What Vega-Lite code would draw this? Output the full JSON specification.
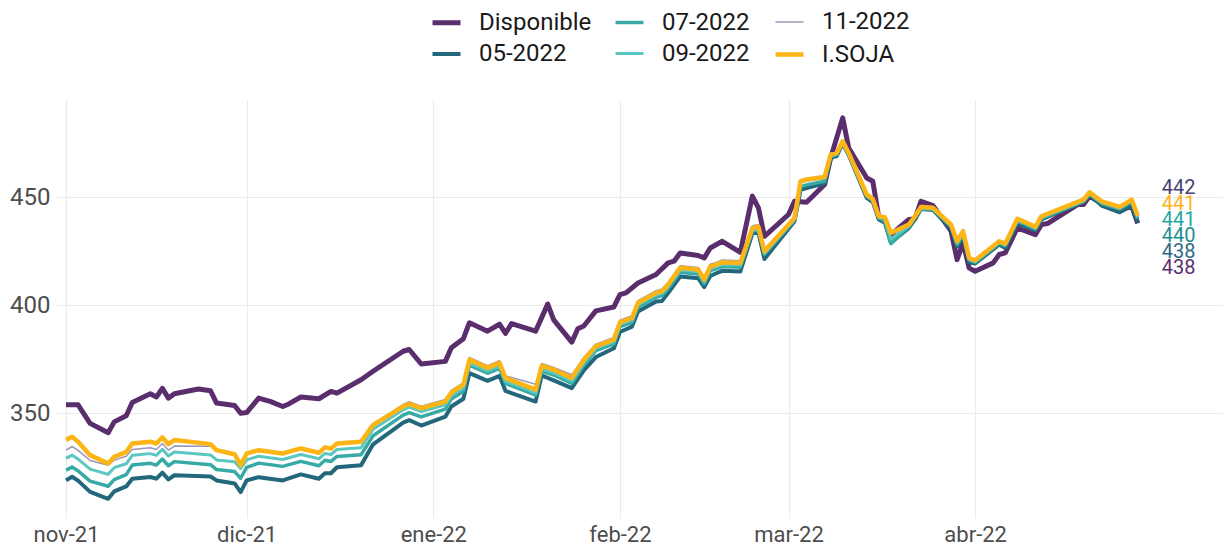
{
"$schema": "https://vega.github.io/schema/vega-lite/v6.json",
"width": 1165, "height": 418,
"autosize": {"type": "none"},
"padding": {"left": 57, "top": 100, "right": 7, "bottom": 30},
"background": "white",
"config": {"view": {"stroke": null}, "font": "Roboto"},
"datasets": {
"prices": [
{"date":"2021-11-01","series":"Disponible","value":353.9},{"date":"2021-11-03","series":"Disponible","value":353.9},{"date":"2021-11-05","series":"Disponible","value":345.3},{"date":"2021-11-08","series":"Disponible","value":341.0},{"date":"2021-11-09","series":"Disponible","value":346.0},{"date":"2021-11-11","series":"Disponible","value":348.8},{"date":"2021-11-12","series":"Disponible","value":355.0},{"date":"2021-11-15","series":"Disponible","value":359.0},{"date":"2021-11-16","series":"Disponible","value":357.5},{"date":"2021-11-17","series":"Disponible","value":361.5},{"date":"2021-11-18","series":"Disponible","value":357.0},{"date":"2021-11-19","series":"Disponible","value":359.0},{"date":"2021-11-23","series":"Disponible","value":361.2},{"date":"2021-11-25","series":"Disponible","value":360.4},{"date":"2021-11-26","series":"Disponible","value":354.7},{"date":"2021-11-29","series":"Disponible","value":353.6},{"date":"2021-11-30","series":"Disponible","value":350.0},{"date":"2021-12-01","series":"Disponible","value":350.3},{"date":"2021-12-03","series":"Disponible","value":357.0},{"date":"2021-12-05","series":"Disponible","value":355.4},{"date":"2021-12-07","series":"Disponible","value":353.1},{"date":"2021-12-08","series":"Disponible","value":354.3},{"date":"2021-12-10","series":"Disponible","value":357.5},{"date":"2021-12-13","series":"Disponible","value":356.7},{"date":"2021-12-15","series":"Disponible","value":360.1},{"date":"2021-12-16","series":"Disponible","value":359.3},{"date":"2021-12-20","series":"Disponible","value":365.5},{"date":"2021-12-22","series":"Disponible","value":369.4},{"date":"2021-12-27","series":"Disponible","value":378.7},{"date":"2021-12-28","series":"Disponible","value":379.5},{"date":"2021-12-30","series":"Disponible","value":372.8},{"date":"2022-01-03","series":"Disponible","value":374.0},{"date":"2022-01-04","series":"Disponible","value":380.3},{"date":"2022-01-06","series":"Disponible","value":384.5},{"date":"2022-01-07","series":"Disponible","value":391.9},{"date":"2022-01-10","series":"Disponible","value":388.0},{"date":"2022-01-12","series":"Disponible","value":391.2},{"date":"2022-01-13","series":"Disponible","value":387.0},{"date":"2022-01-14","series":"Disponible","value":391.5},{"date":"2022-01-18","series":"Disponible","value":388.0},{"date":"2022-01-20","series":"Disponible","value":400.5},{"date":"2022-01-21","series":"Disponible","value":393.2},{"date":"2022-01-24","series":"Disponible","value":382.9},{"date":"2022-01-25","series":"Disponible","value":389.1},{"date":"2022-01-26","series":"Disponible","value":390.4},{"date":"2022-01-28","series":"Disponible","value":397.4},{"date":"2022-01-31","series":"Disponible","value":399.2},{"date":"2022-02-01","series":"Disponible","value":404.9},{"date":"2022-02-02","series":"Disponible","value":405.7},{"date":"2022-02-04","series":"Disponible","value":410.3},{"date":"2022-02-07","series":"Disponible","value":414.2},{"date":"2022-02-09","series":"Disponible","value":419.6},{"date":"2022-02-10","series":"Disponible","value":420.4},{"date":"2022-02-11","series":"Disponible","value":424.2},{"date":"2022-02-14","series":"Disponible","value":423.0},{"date":"2022-02-15","series":"Disponible","value":421.9},{"date":"2022-02-16","series":"Disponible","value":426.5},{"date":"2022-02-18","series":"Disponible","value":429.6},{"date":"2022-02-21","series":"Disponible","value":424.5},{"date":"2022-02-23","series":"Disponible","value":450.5},{"date":"2022-02-24","series":"Disponible","value":445.1},{"date":"2022-02-25","series":"Disponible","value":431.9},{"date":"2022-03-01","series":"Disponible","value":442.0},{"date":"2022-03-02","series":"Disponible","value":448.1},{"date":"2022-03-04","series":"Disponible","value":447.7},{"date":"2022-03-07","series":"Disponible","value":455.9},{"date":"2022-03-08","series":"Disponible","value":468.2},{"date":"2022-03-10","series":"Disponible","value":486.7},{"date":"2022-03-11","series":"Disponible","value":472.8},{"date":"2022-03-14","series":"Disponible","value":458.9},{"date":"2022-03-15","series":"Disponible","value":457.4},{"date":"2022-03-16","series":"Disponible","value":440.4},{"date":"2022-03-17","series":"Disponible","value":439.7},{"date":"2022-03-18","series":"Disponible","value":432.7},{"date":"2022-03-21","series":"Disponible","value":439.7},{"date":"2022-03-22","series":"Disponible","value":440.0},{"date":"2022-03-23","series":"Disponible","value":448.1},{"date":"2022-03-25","series":"Disponible","value":446.1},{"date":"2022-03-28","series":"Disponible","value":434.3},{"date":"2022-03-29","series":"Disponible","value":421.1},{"date":"2022-03-30","series":"Disponible","value":428.9},{"date":"2022-03-31","series":"Disponible","value":417.3},{"date":"2022-04-01","series":"Disponible","value":415.7},{"date":"2022-04-04","series":"Disponible","value":419.6},{"date":"2022-04-05","series":"Disponible","value":423.5},{"date":"2022-04-06","series":"Disponible","value":424.2},{"date":"2022-04-08","series":"Disponible","value":435.8},{"date":"2022-04-11","series":"Disponible","value":432.7},{"date":"2022-04-12","series":"Disponible","value":437.3},{"date":"2022-04-13","series":"Disponible","value":437.8},{"date":"2022-04-18","series":"Disponible","value":446.6},{"date":"2022-04-19","series":"Disponible","value":446.6},{"date":"2022-04-20","series":"Disponible","value":450.5},{"date":"2022-04-22","series":"Disponible","value":447.1},{"date":"2022-04-25","series":"Disponible","value":443.5},{"date":"2022-04-27","series":"Disponible","value":446.1},{"date":"2022-04-28","series":"Disponible","value":437.9},
{"date":"2021-11-01","series":"05-2022","value":318.9},{"date":"2021-11-02","series":"05-2022","value":320.6},{"date":"2021-11-03","series":"05-2022","value":318.8},{"date":"2021-11-05","series":"05-2022","value":313.6},{"date":"2021-11-08","series":"05-2022","value":310.4},{"date":"2021-11-09","series":"05-2022","value":313.8},{"date":"2021-11-11","series":"05-2022","value":316.1},{"date":"2021-11-12","series":"05-2022","value":319.7},{"date":"2021-11-15","series":"05-2022","value":320.5},{"date":"2021-11-16","series":"05-2022","value":319.7},{"date":"2021-11-17","series":"05-2022","value":322.5},{"date":"2021-11-18","series":"05-2022","value":319.4},{"date":"2021-11-19","series":"05-2022","value":321.3},{"date":"2021-11-25","series":"05-2022","value":320.7},{"date":"2021-11-26","series":"05-2022","value":318.9},{"date":"2021-11-29","series":"05-2022","value":317.5},{"date":"2021-11-30","series":"05-2022","value":313.5},{"date":"2021-12-01","series":"05-2022","value":318.9},{"date":"2021-12-03","series":"05-2022","value":320.4},{"date":"2021-12-07","series":"05-2022","value":318.9},{"date":"2021-12-10","series":"05-2022","value":321.7},{"date":"2021-12-13","series":"05-2022","value":319.7},{"date":"2021-12-14","series":"05-2022","value":322.2},{"date":"2021-12-15","series":"05-2022","value":322.2},{"date":"2021-12-16","series":"05-2022","value":325.0},{"date":"2021-12-20","series":"05-2022","value":325.9},{"date":"2021-12-22","series":"05-2022","value":335.6},{"date":"2021-12-27","series":"05-2022","value":345.7},{"date":"2021-12-28","series":"05-2022","value":346.8},{"date":"2021-12-30","series":"05-2022","value":344.3},{"date":"2022-01-03","series":"05-2022","value":348.4},{"date":"2022-01-04","series":"05-2022","value":353.1},{"date":"2022-01-06","series":"05-2022","value":356.7},{"date":"2022-01-07","series":"05-2022","value":368.6},{"date":"2022-01-10","series":"05-2022","value":365.0},{"date":"2022-01-12","series":"05-2022","value":367.3},{"date":"2022-01-13","series":"05-2022","value":360.3},{"date":"2022-01-18","series":"05-2022","value":355.4},{"date":"2022-01-19","series":"05-2022","value":367.5},{"date":"2022-01-21","series":"05-2022","value":365.2},{"date":"2022-01-24","series":"05-2022","value":361.6},{"date":"2022-01-26","series":"05-2022","value":369.8},{"date":"2022-01-28","series":"05-2022","value":376.0},{"date":"2022-01-31","series":"05-2022","value":380.1},{"date":"2022-02-01","series":"05-2022","value":387.6},{"date":"2022-02-03","series":"05-2022","value":390.1},{"date":"2022-02-04","series":"05-2022","value":397.1},{"date":"2022-02-07","series":"05-2022","value":401.7},{"date":"2022-02-08","series":"05-2022","value":402.0},{"date":"2022-02-09","series":"05-2022","value":405.6},{"date":"2022-02-11","series":"05-2022","value":413.3},{"date":"2022-02-14","series":"05-2022","value":412.5},{"date":"2022-02-15","series":"05-2022","value":408.4},{"date":"2022-02-16","series":"05-2022","value":413.5},{"date":"2022-02-17","series":"05-2022","value":414.8},{"date":"2022-02-18","series":"05-2022","value":415.9},{"date":"2022-02-21","series":"05-2022","value":415.6},{"date":"2022-02-23","series":"05-2022","value":433.3},{"date":"2022-02-24","series":"05-2022","value":433.8},{"date":"2022-02-25","series":"05-2022","value":421.4},{"date":"2022-03-02","series":"05-2022","value":438.9},{"date":"2022-03-03","series":"05-2022","value":453.4},{"date":"2022-03-04","series":"05-2022","value":454.2},{"date":"2022-03-07","series":"05-2022","value":456.4},{"date":"2022-03-08","series":"05-2022","value":468.2},{"date":"2022-03-09","series":"05-2022","value":469.0},{"date":"2022-03-10","series":"05-2022","value":474.9},{"date":"2022-03-11","series":"05-2022","value":469.5},{"date":"2022-03-14","series":"05-2022","value":449.7},{"date":"2022-03-15","series":"05-2022","value":447.7},{"date":"2022-03-16","series":"05-2022","value":439.7},{"date":"2022-03-17","series":"05-2022","value":438.2},{"date":"2022-03-18","series":"05-2022","value":429.0},{"date":"2022-03-21","series":"05-2022","value":435.8},{"date":"2022-03-22","series":"05-2022","value":439.7},{"date":"2022-03-23","series":"05-2022","value":444.5},{"date":"2022-03-25","series":"05-2022","value":444.1},{"date":"2022-03-28","series":"05-2022","value":435.3},{"date":"2022-03-29","series":"05-2022","value":427.1},{"date":"2022-03-30","series":"05-2022","value":431.8},{"date":"2022-03-31","series":"05-2022","value":419.9},{"date":"2022-04-01","series":"05-2022","value":419.3},{"date":"2022-04-05","series":"05-2022","value":428.1},{"date":"2022-04-06","series":"05-2022","value":426.5},{"date":"2022-04-08","series":"05-2022","value":438.0},{"date":"2022-04-11","series":"05-2022","value":434.8},{"date":"2022-04-12","series":"05-2022","value":439.7},{"date":"2022-04-19","series":"05-2022","value":447.9},{"date":"2022-04-20","series":"05-2022","value":451.3},{"date":"2022-04-22","series":"05-2022","value":446.1},{"date":"2022-04-25","series":"05-2022","value":443.0},{"date":"2022-04-27","series":"05-2022","value":446.4},{"date":"2022-04-28","series":"05-2022","value":438.2},
{"date":"2021-11-01","series":"07-2022","value":323.6},{"date":"2021-11-02","series":"07-2022","value":325.1},{"date":"2021-11-03","series":"07-2022","value":323.3},{"date":"2021-11-05","series":"07-2022","value":318.6},{"date":"2021-11-08","series":"07-2022","value":316.2},{"date":"2021-11-09","series":"07-2022","value":319.3},{"date":"2021-11-11","series":"07-2022","value":321.6},{"date":"2021-11-12","series":"07-2022","value":326.0},{"date":"2021-11-15","series":"07-2022","value":326.8},{"date":"2021-11-16","series":"07-2022","value":326.0},{"date":"2021-11-17","series":"07-2022","value":328.8},{"date":"2021-11-18","series":"07-2022","value":325.7},{"date":"2021-11-19","series":"07-2022","value":327.6},{"date":"2021-11-25","series":"07-2022","value":326.2},{"date":"2021-11-26","series":"07-2022","value":323.9},{"date":"2021-11-29","series":"07-2022","value":323.0},{"date":"2021-11-30","series":"07-2022","value":319.9},{"date":"2021-12-01","series":"07-2022","value":324.9},{"date":"2021-12-03","series":"07-2022","value":326.9},{"date":"2021-12-07","series":"07-2022","value":325.4},{"date":"2021-12-10","series":"07-2022","value":327.7},{"date":"2021-12-13","series":"07-2022","value":325.7},{"date":"2021-12-14","series":"07-2022","value":328.2},{"date":"2021-12-15","series":"07-2022","value":327.7},{"date":"2021-12-16","series":"07-2022","value":330.0},{"date":"2021-12-20","series":"07-2022","value":330.8},{"date":"2021-12-22","series":"07-2022","value":339.6},{"date":"2021-12-27","series":"07-2022","value":349.1},{"date":"2021-12-28","series":"07-2022","value":350.3},{"date":"2021-12-30","series":"07-2022","value":348.3},{"date":"2022-01-03","series":"07-2022","value":351.9},{"date":"2022-01-04","series":"07-2022","value":356.6},{"date":"2022-01-06","series":"07-2022","value":360.2},{"date":"2022-01-07","series":"07-2022","value":372.3},{"date":"2022-01-10","series":"07-2022","value":368.5},{"date":"2022-01-12","series":"07-2022","value":370.8},{"date":"2022-01-13","series":"07-2022","value":363.8},{"date":"2022-01-18","series":"07-2022","value":358.4},{"date":"2022-01-19","series":"07-2022","value":369.5},{"date":"2022-01-21","series":"07-2022","value":367.7},{"date":"2022-01-24","series":"07-2022","value":363.8},{"date":"2022-01-26","series":"07-2022","value":372.3},{"date":"2022-01-28","series":"07-2022","value":379.0},{"date":"2022-01-31","series":"07-2022","value":382.1},{"date":"2022-02-01","series":"07-2022","value":390.1},{"date":"2022-02-03","series":"07-2022","value":392.1},{"date":"2022-02-04","series":"07-2022","value":399.1},{"date":"2022-02-07","series":"07-2022","value":403.7},{"date":"2022-02-08","series":"07-2022","value":404.5},{"date":"2022-02-09","series":"07-2022","value":407.6},{"date":"2022-02-11","series":"07-2022","value":415.3},{"date":"2022-02-14","series":"07-2022","value":414.5},{"date":"2022-02-15","series":"07-2022","value":409.9},{"date":"2022-02-16","series":"07-2022","value":416.0},{"date":"2022-02-17","series":"07-2022","value":416.8},{"date":"2022-02-18","series":"07-2022","value":417.9},{"date":"2022-02-21","series":"07-2022","value":417.6},{"date":"2022-02-23","series":"07-2022","value":434.3},{"date":"2022-02-24","series":"07-2022","value":434.8},{"date":"2022-02-25","series":"07-2022","value":423.5},{"date":"2022-03-02","series":"07-2022","value":439.4},{"date":"2022-03-03","series":"07-2022","value":454.9},{"date":"2022-03-04","series":"07-2022","value":455.7},{"date":"2022-03-07","series":"07-2022","value":457.4},{"date":"2022-03-08","series":"07-2022","value":468.7},{"date":"2022-03-09","series":"07-2022","value":469.7},{"date":"2022-03-10","series":"07-2022","value":475.1},{"date":"2022-03-11","series":"07-2022","value":469.7},{"date":"2022-03-14","series":"07-2022","value":450.4},{"date":"2022-03-15","series":"07-2022","value":448.4},{"date":"2022-03-16","series":"07-2022","value":440.4},{"date":"2022-03-17","series":"07-2022","value":438.7},{"date":"2022-03-18","series":"07-2022","value":428.5},{"date":"2022-03-21","series":"07-2022","value":436.3},{"date":"2022-03-22","series":"07-2022","value":440.4},{"date":"2022-03-23","series":"07-2022","value":444.7},{"date":"2022-03-25","series":"07-2022","value":444.3},{"date":"2022-03-28","series":"07-2022","value":436.5},{"date":"2022-03-29","series":"07-2022","value":428.1},{"date":"2022-03-30","series":"07-2022","value":432.8},{"date":"2022-03-31","series":"07-2022","value":420.9},{"date":"2022-04-01","series":"07-2022","value":419.8},{"date":"2022-04-05","series":"07-2022","value":428.6},{"date":"2022-04-06","series":"07-2022","value":427.5},{"date":"2022-04-08","series":"07-2022","value":439.0},{"date":"2022-04-11","series":"07-2022","value":435.3},{"date":"2022-04-12","series":"07-2022","value":440.2},{"date":"2022-04-19","series":"07-2022","value":447.9},{"date":"2022-04-20","series":"07-2022","value":451.3},{"date":"2022-04-22","series":"07-2022","value":447.1},{"date":"2022-04-25","series":"07-2022","value":444.5},{"date":"2022-04-27","series":"07-2022","value":447.9},{"date":"2022-04-28","series":"07-2022","value":440.2},
{"date":"2021-11-01","series":"09-2022","value":329.1},{"date":"2021-11-02","series":"09-2022","value":330.6},{"date":"2021-11-03","series":"09-2022","value":328.8},{"date":"2021-11-05","series":"09-2022","value":324.1},{"date":"2021-11-08","series":"09-2022","value":321.7},{"date":"2021-11-09","series":"09-2022","value":324.8},{"date":"2021-11-11","series":"09-2022","value":326.6},{"date":"2021-11-12","series":"09-2022","value":330.5},{"date":"2021-11-15","series":"09-2022","value":331.3},{"date":"2021-11-16","series":"09-2022","value":330.5},{"date":"2021-11-17","series":"09-2022","value":333.3},{"date":"2021-11-18","series":"09-2022","value":330.2},{"date":"2021-11-19","series":"09-2022","value":332.1},{"date":"2021-11-25","series":"09-2022","value":330.7},{"date":"2021-11-26","series":"09-2022","value":328.4},{"date":"2021-11-29","series":"09-2022","value":327.5},{"date":"2021-11-30","series":"09-2022","value":324.4},{"date":"2021-12-01","series":"09-2022","value":328.4},{"date":"2021-12-03","series":"09-2022","value":330.1},{"date":"2021-12-07","series":"09-2022","value":328.6},{"date":"2021-12-10","series":"09-2022","value":330.9},{"date":"2021-12-13","series":"09-2022","value":328.9},{"date":"2021-12-14","series":"09-2022","value":331.4},{"date":"2021-12-15","series":"09-2022","value":330.9},{"date":"2021-12-16","series":"09-2022","value":333.2},{"date":"2021-12-20","series":"09-2022","value":334.0},{"date":"2021-12-22","series":"09-2022","value":342.6},{"date":"2021-12-27","series":"09-2022","value":351.6},{"date":"2021-12-28","series":"09-2022","value":352.8},{"date":"2021-12-30","series":"09-2022","value":350.8},{"date":"2022-01-03","series":"09-2022","value":353.9},{"date":"2022-01-04","series":"09-2022","value":358.1},{"date":"2022-01-06","series":"09-2022","value":361.7},{"date":"2022-01-07","series":"09-2022","value":373.3},{"date":"2022-01-10","series":"09-2022","value":369.5},{"date":"2022-01-12","series":"09-2022","value":371.8},{"date":"2022-01-13","series":"09-2022","value":364.8},{"date":"2022-01-18","series":"09-2022","value":359.4},{"date":"2022-01-19","series":"09-2022","value":370.5},{"date":"2022-01-21","series":"09-2022","value":368.7},{"date":"2022-01-24","series":"09-2022","value":364.8},{"date":"2022-01-26","series":"09-2022","value":373.3},{"date":"2022-01-28","series":"09-2022","value":380.0},{"date":"2022-01-31","series":"09-2022","value":383.1},{"date":"2022-02-01","series":"09-2022","value":391.1},{"date":"2022-02-03","series":"09-2022","value":393.1},{"date":"2022-02-04","series":"09-2022","value":400.1},{"date":"2022-02-07","series":"09-2022","value":404.7},{"date":"2022-02-08","series":"09-2022","value":405.5},{"date":"2022-02-09","series":"09-2022","value":408.6},{"date":"2022-02-11","series":"09-2022","value":416.3},{"date":"2022-02-14","series":"09-2022","value":415.5},{"date":"2022-02-15","series":"09-2022","value":410.9},{"date":"2022-02-16","series":"09-2022","value":417.0},{"date":"2022-02-17","series":"09-2022","value":417.8},{"date":"2022-02-18","series":"09-2022","value":418.9},{"date":"2022-02-21","series":"09-2022","value":418.6},{"date":"2022-02-23","series":"09-2022","value":434.8},{"date":"2022-02-24","series":"09-2022","value":435.3},{"date":"2022-02-25","series":"09-2022","value":424.0},{"date":"2022-03-02","series":"09-2022","value":439.9},{"date":"2022-03-03","series":"09-2022","value":456.9},{"date":"2022-03-04","series":"09-2022","value":457.7},{"date":"2022-03-07","series":"09-2022","value":458.9},{"date":"2022-03-08","series":"09-2022","value":469.2},{"date":"2022-03-09","series":"09-2022","value":470.0},{"date":"2022-03-10","series":"09-2022","value":475.4},{"date":"2022-03-11","series":"09-2022","value":470.0},{"date":"2022-03-14","series":"09-2022","value":450.7},{"date":"2022-03-15","series":"09-2022","value":448.7},{"date":"2022-03-16","series":"09-2022","value":440.7},{"date":"2022-03-17","series":"09-2022","value":440.2},{"date":"2022-03-18","series":"09-2022","value":430.5},{"date":"2022-03-21","series":"09-2022","value":436.8},{"date":"2022-03-22","series":"09-2022","value":440.7},{"date":"2022-03-23","series":"09-2022","value":445.0},{"date":"2022-03-25","series":"09-2022","value":444.6},{"date":"2022-03-28","series":"09-2022","value":436.8},{"date":"2022-03-29","series":"09-2022","value":429.1},{"date":"2022-03-30","series":"09-2022","value":433.8},{"date":"2022-03-31","series":"09-2022","value":421.4},{"date":"2022-04-01","series":"09-2022","value":420.3},{"date":"2022-04-05","series":"09-2022","value":429.1},{"date":"2022-04-06","series":"09-2022","value":428.0},{"date":"2022-04-08","series":"09-2022","value":439.5},{"date":"2022-04-11","series":"09-2022","value":435.8},{"date":"2022-04-12","series":"09-2022","value":440.7},{"date":"2022-04-19","series":"09-2022","value":448.4},{"date":"2022-04-20","series":"09-2022","value":451.8},{"date":"2022-04-22","series":"09-2022","value":447.6},{"date":"2022-04-25","series":"09-2022","value":445.0},{"date":"2022-04-27","series":"09-2022","value":448.4},{"date":"2022-04-28","series":"09-2022","value":440.8},
{"date":"2021-11-01","series":"11-2022","value":332.9},{"date":"2021-11-02","series":"11-2022","value":334.6},{"date":"2021-11-03","series":"11-2022","value":332.8},{"date":"2021-11-05","series":"11-2022","value":328.1},{"date":"2021-11-08","series":"11-2022","value":325.9},{"date":"2021-11-09","series":"11-2022","value":328.3},{"date":"2021-11-11","series":"11-2022","value":330.1},{"date":"2021-11-12","series":"11-2022","value":333.2},{"date":"2021-11-15","series":"11-2022","value":334.0},{"date":"2021-11-16","series":"11-2022","value":333.2},{"date":"2021-11-17","series":"11-2022","value":336.0},{"date":"2021-11-18","series":"11-2022","value":332.9},{"date":"2021-11-19","series":"11-2022","value":334.8},{"date":"2021-11-25","series":"11-2022","value":334.7},{"date":"2021-11-26","series":"11-2022","value":332.4},{"date":"2021-11-29","series":"11-2022","value":330.5},{"date":"2021-11-30","series":"11-2022","value":325.4},{"date":"2021-12-01","series":"11-2022","value":330.9},{"date":"2021-12-03","series":"11-2022","value":332.4},{"date":"2021-12-07","series":"11-2022","value":330.9},{"date":"2021-12-10","series":"11-2022","value":333.2},{"date":"2021-12-13","series":"11-2022","value":331.2},{"date":"2021-12-14","series":"11-2022","value":333.7},{"date":"2021-12-15","series":"11-2022","value":333.2},{"date":"2021-12-16","series":"11-2022","value":335.5},{"date":"2021-12-20","series":"11-2022","value":336.3},{"date":"2021-12-22","series":"11-2022","value":344.6},{"date":"2021-12-27","series":"11-2022","value":354.1},{"date":"2021-12-28","series":"11-2022","value":355.3},{"date":"2021-12-30","series":"11-2022","value":353.3},{"date":"2022-01-03","series":"11-2022","value":356.4},{"date":"2022-01-04","series":"11-2022","value":360.6},{"date":"2022-01-06","series":"11-2022","value":364.2},{"date":"2022-01-07","series":"11-2022","value":375.8},{"date":"2022-01-10","series":"11-2022","value":372.0},{"date":"2022-01-12","series":"11-2022","value":374.3},{"date":"2022-01-13","series":"11-2022","value":367.3},{"date":"2022-01-18","series":"11-2022","value":363.4},{"date":"2022-01-19","series":"11-2022","value":373.0},{"date":"2022-01-21","series":"11-2022","value":371.2},{"date":"2022-01-24","series":"11-2022","value":367.8},{"date":"2022-01-26","series":"11-2022","value":375.8},{"date":"2022-01-28","series":"11-2022","value":382.0},{"date":"2022-01-31","series":"11-2022","value":385.1},{"date":"2022-02-01","series":"11-2022","value":393.1},{"date":"2022-02-03","series":"11-2022","value":395.1},{"date":"2022-02-04","series":"11-2022","value":402.1},{"date":"2022-02-07","series":"11-2022","value":406.7},{"date":"2022-02-08","series":"11-2022","value":407.5},{"date":"2022-02-09","series":"11-2022","value":410.6},{"date":"2022-02-11","series":"11-2022","value":418.3},{"date":"2022-02-14","series":"11-2022","value":417.5},{"date":"2022-02-15","series":"11-2022","value":412.9},{"date":"2022-02-16","series":"11-2022","value":419.0},{"date":"2022-02-17","series":"11-2022","value":419.8},{"date":"2022-02-18","series":"11-2022","value":420.9},{"date":"2022-02-21","series":"11-2022","value":420.6},{"date":"2022-02-23","series":"11-2022","value":436.8},{"date":"2022-02-24","series":"11-2022","value":437.3},{"date":"2022-02-25","series":"11-2022","value":426.0},{"date":"2022-03-02","series":"11-2022","value":440.9},{"date":"2022-03-03","series":"11-2022","value":457.9},{"date":"2022-03-04","series":"11-2022","value":458.7},{"date":"2022-03-07","series":"11-2022","value":459.9},{"date":"2022-03-08","series":"11-2022","value":470.2},{"date":"2022-03-09","series":"11-2022","value":471.0},{"date":"2022-03-10","series":"11-2022","value":476.4},{"date":"2022-03-11","series":"11-2022","value":471.0},{"date":"2022-03-14","series":"11-2022","value":451.7},{"date":"2022-03-15","series":"11-2022","value":449.7},{"date":"2022-03-16","series":"11-2022","value":441.7},{"date":"2022-03-17","series":"11-2022","value":441.2},{"date":"2022-03-18","series":"11-2022","value":434.0},{"date":"2022-03-21","series":"11-2022","value":437.8},{"date":"2022-03-22","series":"11-2022","value":441.7},{"date":"2022-03-23","series":"11-2022","value":446.0},{"date":"2022-03-25","series":"11-2022","value":445.6},{"date":"2022-03-28","series":"11-2022","value":437.8},{"date":"2022-03-29","series":"11-2022","value":430.1},{"date":"2022-03-30","series":"11-2022","value":434.8},{"date":"2022-03-31","series":"11-2022","value":422.4},{"date":"2022-04-01","series":"11-2022","value":421.3},{"date":"2022-04-05","series":"11-2022","value":430.1},{"date":"2022-04-06","series":"11-2022","value":429.0},{"date":"2022-04-08","series":"11-2022","value":440.5},{"date":"2022-04-11","series":"11-2022","value":436.8},{"date":"2022-04-12","series":"11-2022","value":441.7},{"date":"2022-04-19","series":"11-2022","value":449.4},{"date":"2022-04-20","series":"11-2022","value":452.8},{"date":"2022-04-22","series":"11-2022","value":448.6},{"date":"2022-04-25","series":"11-2022","value":446.0},{"date":"2022-04-27","series":"11-2022","value":449.4},{"date":"2022-04-28","series":"11-2022","value":442.0},
{"date":"2021-11-01","series":"I.SOJA","value":337.6},{"date":"2021-11-02","series":"I.SOJA","value":339.1},{"date":"2021-11-03","series":"I.SOJA","value":336.8},{"date":"2021-11-05","series":"I.SOJA","value":330.6},{"date":"2021-11-08","series":"I.SOJA","value":326.7},{"date":"2021-11-09","series":"I.SOJA","value":329.8},{"date":"2021-11-11","series":"I.SOJA","value":332.1},{"date":"2021-11-12","series":"I.SOJA","value":336.0},{"date":"2021-11-15","series":"I.SOJA","value":336.8},{"date":"2021-11-16","series":"I.SOJA","value":336.0},{"date":"2021-11-17","series":"I.SOJA","value":338.8},{"date":"2021-11-18","series":"I.SOJA","value":335.7},{"date":"2021-11-19","series":"I.SOJA","value":337.6},{"date":"2021-11-25","series":"I.SOJA","value":335.7},{"date":"2021-11-26","series":"I.SOJA","value":332.9},{"date":"2021-11-29","series":"I.SOJA","value":331.0},{"date":"2021-11-30","series":"I.SOJA","value":325.9},{"date":"2021-12-01","series":"I.SOJA","value":331.4},{"date":"2021-12-03","series":"I.SOJA","value":332.9},{"date":"2021-12-07","series":"I.SOJA","value":331.4},{"date":"2021-12-10","series":"I.SOJA","value":333.7},{"date":"2021-12-13","series":"I.SOJA","value":331.7},{"date":"2021-12-14","series":"I.SOJA","value":334.2},{"date":"2021-12-15","series":"I.SOJA","value":333.7},{"date":"2021-12-16","series":"I.SOJA","value":336.0},{"date":"2021-12-20","series":"I.SOJA","value":336.8},{"date":"2021-12-22","series":"I.SOJA","value":344.6},{"date":"2021-12-27","series":"I.SOJA","value":353.1},{"date":"2021-12-28","series":"I.SOJA","value":354.3},{"date":"2021-12-30","series":"I.SOJA","value":352.3},{"date":"2022-01-03","series":"I.SOJA","value":355.4},{"date":"2022-01-04","series":"I.SOJA","value":359.6},{"date":"2022-01-06","series":"I.SOJA","value":363.2},{"date":"2022-01-07","series":"I.SOJA","value":374.8},{"date":"2022-01-10","series":"I.SOJA","value":371.0},{"date":"2022-01-12","series":"I.SOJA","value":373.3},{"date":"2022-01-13","series":"I.SOJA","value":366.3},{"date":"2022-01-18","series":"I.SOJA","value":360.9},{"date":"2022-01-19","series":"I.SOJA","value":372.0},{"date":"2022-01-21","series":"I.SOJA","value":370.2},{"date":"2022-01-24","series":"I.SOJA","value":366.3},{"date":"2022-01-26","series":"I.SOJA","value":374.8},{"date":"2022-01-28","series":"I.SOJA","value":381.0},{"date":"2022-01-31","series":"I.SOJA","value":384.1},{"date":"2022-02-01","series":"I.SOJA","value":392.1},{"date":"2022-02-03","series":"I.SOJA","value":394.1},{"date":"2022-02-04","series":"I.SOJA","value":401.1},{"date":"2022-02-07","series":"I.SOJA","value":405.7},{"date":"2022-02-08","series":"I.SOJA","value":406.5},{"date":"2022-02-09","series":"I.SOJA","value":409.6},{"date":"2022-02-11","series":"I.SOJA","value":417.3},{"date":"2022-02-14","series":"I.SOJA","value":416.5},{"date":"2022-02-15","series":"I.SOJA","value":411.9},{"date":"2022-02-16","series":"I.SOJA","value":418.0},{"date":"2022-02-17","series":"I.SOJA","value":418.8},{"date":"2022-02-18","series":"I.SOJA","value":419.9},{"date":"2022-02-21","series":"I.SOJA","value":419.6},{"date":"2022-02-23","series":"I.SOJA","value":435.8},{"date":"2022-02-24","series":"I.SOJA","value":436.3},{"date":"2022-02-25","series":"I.SOJA","value":425.0},{"date":"2022-03-02","series":"I.SOJA","value":440.4},{"date":"2022-03-03","series":"I.SOJA","value":457.4},{"date":"2022-03-04","series":"I.SOJA","value":458.2},{"date":"2022-03-07","series":"I.SOJA","value":459.4},{"date":"2022-03-08","series":"I.SOJA","value":469.7},{"date":"2022-03-09","series":"I.SOJA","value":470.5},{"date":"2022-03-10","series":"I.SOJA","value":475.9},{"date":"2022-03-11","series":"I.SOJA","value":470.5},{"date":"2022-03-14","series":"I.SOJA","value":451.2},{"date":"2022-03-15","series":"I.SOJA","value":449.2},{"date":"2022-03-16","series":"I.SOJA","value":441.2},{"date":"2022-03-17","series":"I.SOJA","value":440.7},{"date":"2022-03-18","series":"I.SOJA","value":433.5},{"date":"2022-03-21","series":"I.SOJA","value":437.3},{"date":"2022-03-22","series":"I.SOJA","value":441.2},{"date":"2022-03-23","series":"I.SOJA","value":445.5},{"date":"2022-03-25","series":"I.SOJA","value":445.1},{"date":"2022-03-28","series":"I.SOJA","value":437.3},{"date":"2022-03-29","series":"I.SOJA","value":429.6},{"date":"2022-03-30","series":"I.SOJA","value":434.3},{"date":"2022-03-31","series":"I.SOJA","value":421.9},{"date":"2022-04-01","series":"I.SOJA","value":420.8},{"date":"2022-04-05","series":"I.SOJA","value":429.6},{"date":"2022-04-06","series":"I.SOJA","value":428.5},{"date":"2022-04-08","series":"I.SOJA","value":440.0},{"date":"2022-04-11","series":"I.SOJA","value":436.3},{"date":"2022-04-12","series":"I.SOJA","value":441.2},{"date":"2022-04-19","series":"I.SOJA","value":448.9},{"date":"2022-04-20","series":"I.SOJA","value":452.3},{"date":"2022-04-22","series":"I.SOJA","value":448.1},{"date":"2022-04-25","series":"I.SOJA","value":445.5},{"date":"2022-04-27","series":"I.SOJA","value":448.9},{"date":"2022-04-28","series":"I.SOJA","value":441.4}
]
},
"data": {"name": "prices"},
"layer": [
{
"mark": {"type": "line", "strokeJoin": "round"},
"encoding": {
"x": {"field": "date", "type": "temporal",
 "scale": {"type": "utc", "domain": [{"year": 2021, "month": 10, "date": 30, "hours": 12, "utc": true}, {"year": 2022, "month": 5, "date": 12, "utc": true}]},
 "axis": {"title": null, "values": [{"year":2021,"month":11,"date":1,"utc":true},{"year":2021,"month":12,"date":1,"utc":true},{"year":2022,"month":1,"date":1,"utc":true},{"year":2022,"month":2,"date":1,"utc":true},{"year":2022,"month":3,"date":1,"utc":true},{"year":2022,"month":4,"date":1,"utc":true}],
  "labelExpr": "['ene','feb','mar','abr','may','jun','jul','ago','sep','oct','nov','dic'][utcmonth(datum.value)] + '-' + utcFormat(datum.value, '%y')",
  "grid": true, "gridColor": "#ebebeb", "gridWidth": 1.1, "domain": false, "ticks": false,
  "labelFontSize": 22, "labelColor": "#4d4d4d", "labelPadding": 6, "labelFlush": false, "labelOverlap": false, "labelFont": "Roboto"}},
"y": {"field": "value", "type": "quantitative",
 "scale": {"domain": [301.5, 495], "zero": false, "nice": false},
 "axis": {"title": null, "values": [350, 400, 450], "grid": true, "gridColor": "#ebebeb", "gridWidth": 1.1, "domain": false, "ticks": false,
  "labelFontSize": 24, "labelColor": "#4d4d4d", "labelPadding": 7, "labelFont": "Roboto"}},
"color": {"field": "series", "type": "nominal",
 "scale": {"domain": ["Disponible", "05-2022", "07-2022", "09-2022", "11-2022", "I.SOJA"],
  "range": ["#5a2d6c", "#22677b", "#38aaa6", "#5ac8c0", "#9a96b8", "#fdb515"]},
 "legend": {"title": null, "orient": "none", "legendX": 373, "legendY": -94, "columns": 3, "symbolType": "stroke", "symbolSize": 784,
  "labelFontSize": 24, "labelColor": "#1a1a1a", "labelFont": "Roboto", "columnPadding": 16, "rowPadding": 3, "labelOffset": 16, "padding": 0, "labelLimit": 300}},
"strokeWidth": {"field": "series", "type": "nominal",
 "scale": {"type": "ordinal", "domain": ["Disponible", "05-2022", "07-2022", "09-2022", "11-2022", "I.SOJA"], "range": [5, 4, 3.5, 3, 1.5, 4.5]},
 "legend": {"title": null, "orient": "none", "legendX": 373, "legendY": -94, "columns": 3, "symbolType": "stroke", "symbolSize": 784,
  "labelFontSize": 24, "labelColor": "#1a1a1a", "labelFont": "Roboto", "columnPadding": 16, "rowPadding": 3, "labelOffset": 16, "padding": 0, "labelLimit": 300}}
}
},
{
"transform": [
 {"filter": {"field": "date", "equal": {"year": 2022, "month": 4, "date": 28, "utc": true}}},
 {"window": [{"op": "row_number", "as": "rank"}], "sort": [{"field": "value", "order": "descending"}]},
 {"joinaggregate": [{"op": "mean", "field": "value", "as": "center"}]}
],
"mark": {"type": "text", "align": "left", "baseline": "middle", "dx": 24, "fontSize": 20, "font": "Roboto", "dy": {"expr": "(datum.rank - 1) * 16 - 31"}},
"encoding": {
"x": {"field": "date", "type": "temporal"},
"y": {"field": "center", "type": "quantitative"},
"text": {"field": "value", "type": "quantitative", "format": ".0f"},
"fill": {"field": "series", "type": "nominal", "legend": null,
 "scale": {"domain": ["11-2022", "I.SOJA", "09-2022", "07-2022", "05-2022", "Disponible"],
  "range": ["#463f73", "#fdb515", "#22a8a0", "#1f8e90", "#2e6884", "#5b2e6e"]}}
}
}
]
}
